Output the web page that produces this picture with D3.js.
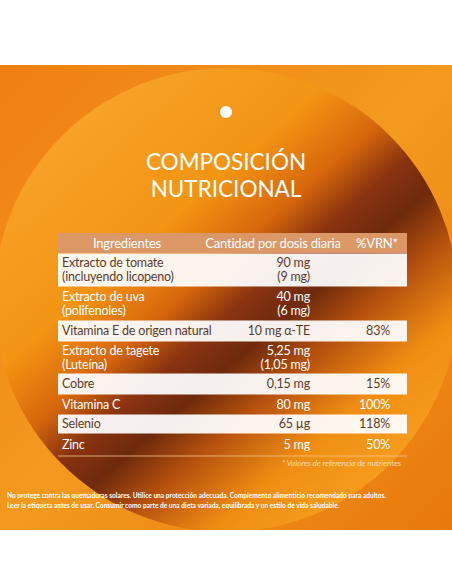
<!DOCTYPE html>
<html><head><meta charset="utf-8">
<script src="https://cdn.jsdelivr.net/npm/d3@7"></script>
<style>body{margin:0;background:#fff}svg{display:block}</style>
</head><body>
<script>
const ingredients=[["Extracto de tomate","(incluyendo licopeno)"],["Extracto de uva","(polifenoles)"],["Vitamina E de origen natural"],["Extracto de tagete","(Luteína)"],["Cobre"],["Vitamina C"],["Selenio"],["Zinc"]];
const amounts=[["90 mg","(9 mg)"],["40 mg","(6 mg)"],["10 mg α-TE"],["5,25 mg","(1,05 mg)"],["0,15 mg"],["80 mg"],["65 µg"],["5 mg"]];
const vrn=["","","83%","","15%","100%","118%","50%"];
const headers=["Ingredientes","Cantidad por dosis diaria","%VRN*"];
const rowHeights=[34,33,22,31,22,19,20,21];

const W=452,H=584;
const svg=d3.select("body").append("svg").attr("width",W).attr("height",H);
const defs=svg.append("defs");
const lg=defs.append("linearGradient").attr("id","bg").attr("x1","0").attr("y1","0").attr("x2","1").attr("y2","1");
[[0,"#f07e12"],[0.5,"#f39a1e"],[1,"#e8780c"]].forEach(s=>lg.append("stop").attr("offset",s[0]).attr("stop-color",s[1]));
const cg=defs.append("linearGradient").attr("id","circ").attr("x1","0.1").attr("y1","0.15").attr("x2","0.8").attr("y2","0.95");
[[0,"#f7a32a"],[0.3,"#f39413"],[0.43,"#d7670c"],[0.52,"#8a3310"],[0.6,"#6e2a0c"],[0.7,"#b8520e"],[0.83,"#ef8d12"],[1,"#f7a020"]].forEach(s=>cg.append("stop").attr("offset",s[0]).attr("stop-color",s[1]));
defs.append("clipPath").attr("id","cl").append("rect").attr("x",0).attr("y",65).attr("width",W).attr("height",465);
svg.append("rect").attr("x",0).attr("y",65).attr("width",W).attr("height",465).attr("fill","url(#bg)");
svg.append("circle").attr("clip-path","url(#cl)").attr("cx",226).attr("cy",300).attr("r",232).attr("fill","url(#circ)");
svg.append("circle").attr("cx",226).attr("cy",112).attr("r",6).attr("fill","#fff");
svg.append("text").attr("x",226).attr("y",170).attr("text-anchor","middle").attr("fill","#fff").attr("font-family","Lato").attr("font-size",22.5).text("COMPOSICIÓN");
svg.append("text").attr("x",226).attr("y",197).attr("text-anchor","middle").attr("fill","#fff").attr("font-family","Lato").attr("font-size",22.5).text("NUTRICIONAL");

const x0=58,x1=407,top0=253;
const ys=[top0];rowHeights.forEach(h=>ys.push(ys[ys.length-1]+h));
const y=d3.scaleOrdinal().domain(d3.range(8)).range(ys);
const g=svg.append("g").attr("font-family","Lato").attr("font-size",12.5).attr("letter-spacing",-0.2);
g.append("rect").attr("x",x0).attr("y",233).attr("width",x1-x0).attr("height",20).attr("fill","#dc9766");
const hx=[127,273,377];
headers.forEach((h,i)=>g.append("text").attr("x",hx[i]).attr("y",248).attr("text-anchor","middle").attr("fill","#fff").attr("font-size",13).text(h));
d3.range(8).forEach(i=>{
  const yy=y(i),h=rowHeights[i],white=i%2===0;
  if(white) g.append("rect").attr("x",x0).attr("y",yy+0.5).attr("width",x1-x0).attr("height",h-1).attr("fill","#fff").attr("opacity",0.93);
  const col=white?"#5b3a2c":"#fff";
  const lines=ingredients[i],n=lines.length,lh=14;
  const base=yy+h/2-(n-1)*lh/2+4;
  lines.forEach((t,k)=>g.append("text").attr("x",62).attr("y",base+k*lh).attr("fill",col).text(t));
  amounts[i].forEach((t,k)=>g.append("text").attr("x",310).attr("y",base+k*lh).attr("text-anchor","end").attr("fill",col).text(t));
  if(vrn[i]) g.append("text").attr("x",390).attr("y",base).attr("text-anchor","end").attr("fill",col).text(vrn[i]);
});
g.append("line").attr("x1",x0).attr("x2",x1).attr("y1",ys[8]+1).attr("y2",ys[8]+1).attr("stroke","#f6c48a").attr("stroke-width",0.8);
g.append("text").attr("x",401).attr("y",466).attr("text-anchor","end").attr("fill","#fbd7a8").attr("font-size",8.5).attr("font-style","italic").text("* Valores de referencia de nutrientes");
const f=svg.append("g").attr("font-family","Lato").attr("font-weight","bold").attr("font-size",6.6).attr("fill","#fff");
f.append("text").attr("x",7).attr("y",498).text("No protege contra las quemaduras solares. Utilice una protección adecuada. Complemento alimenticio recomendado para adultos.");
f.append("text").attr("x",7).attr("y",508).text("Leer la etiqueta antes de usar. Consumir como parte de una dieta variada, equilibrada y un estilo de vida saludable.");
</script>
</body></html>
